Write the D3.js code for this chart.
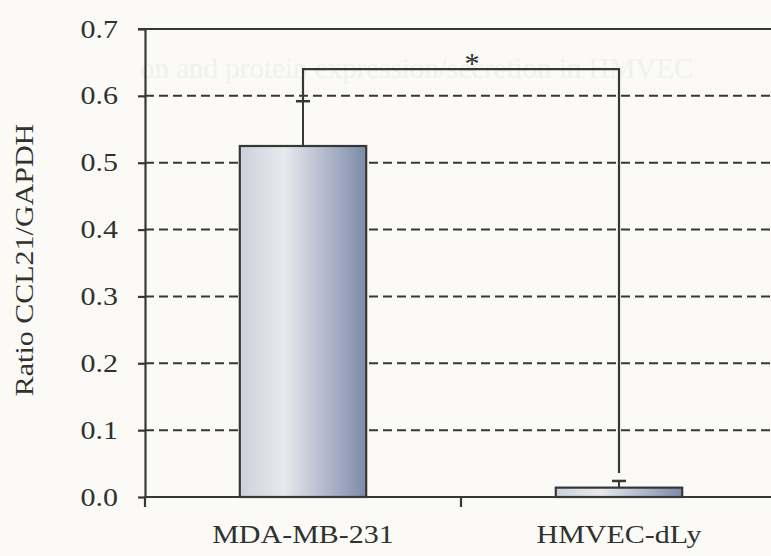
<!DOCTYPE html>
<html>
<head>
<meta charset="utf-8">
<script src="https://cdn.jsdelivr.net/npm/d3@7"></script>
<style>
  body { margin: 0; background: #fbfaf7; }
  svg { display: block; }
  text { font-family: "Liberation Serif", "DejaVu Serif", serif; fill: #2f322e; }
</style>
</head>
<body>
<div id="chart"></div>
<script>
// data
var categories = ['MDA-MB-231', 'HMVEC-dLy'];
var ratios = [0.525, 0.014];
var errors = [0.067, 0.010];
var yTicks = [0.0, 0.1, 0.2, 0.3, 0.4, 0.5, 0.6, 0.7];
var yLabel = 'Ratio CCL21/GAPDH';
var sigLevel = 0.64;
var sigMark = '*';

var width = 771, height = 556;
var margin = {top: 29, right: -6, bottom: 59, left: 145};
var ink = '#353933';
var stretch = 1.2; // the scanned lettering is wider than Liberation Serif

var svg = d3.select('#chart').append('svg')
    .attr('width', width).attr('height', height);

var defs = svg.append('defs');
var grad = defs.append('linearGradient').attr('id', 'barFill')
    .attr('x1', '0%').attr('x2', '100%').attr('y1', '0%').attr('y2', '0%');
grad.append('stop').attr('offset', '0%').attr('stop-color', '#ccd0db');
grad.append('stop').attr('offset', '35%').attr('stop-color', '#e8e9ed');
grad.append('stop').attr('offset', '65%').attr('stop-color', '#b6bdcf');
grad.append('stop').attr('offset', '100%').attr('stop-color', '#7d8aa9');

// faint show-through text from the scanned page
svg.append('text')
    .attr('x', 140).attr('y', 78)
    .style('font-size', '29px')
    .style('fill', '#f1f1ef')
    .text('on and protein expression/secretion in HMVEC');

var x = d3.scaleBand()
    .domain(categories)
    .range([margin.left, width - margin.right])
    .padding(0);

var y = d3.scaleLinear()
    .domain([0, 0.7])
    .range([height - margin.bottom, margin.top]);

var barW = x.bandwidth() * 0.4;

// dashed gridlines
svg.append('g')
    .selectAll('line')
    .data(yTicks.filter(function(d) { return d > 0 && d < 0.7; }))
    .enter().append('line')
    .attr('x1', margin.left).attr('x2', width)
    .attr('y1', function(d) { return y(d); })
    .attr('y2', function(d) { return y(d); })
    .attr('stroke', ink)
    .attr('stroke-width', 2)
    .attr('stroke-dasharray', '9,5');

// top frame line
svg.append('line')
    .attr('x1', margin.left - 7).attr('x2', width)
    .attr('y1', y(0.7)).attr('y2', y(0.7))
    .attr('stroke', ink).attr('stroke-width', 2.2);

// y axis
var yAxis = d3.axisLeft(y)
    .tickValues(yTicks)
    .tickFormat(d3.format('.1f'))
    .tickSizeInner(7)
    .tickSizeOuter(0);

var gy = svg.append('g')
    .attr('transform', 'translate(' + margin.left + ',0)')
    .call(yAxis);
gy.select('.domain').attr('stroke', ink).attr('stroke-width', 2.2);
gy.selectAll('.tick line').attr('stroke', ink).attr('stroke-width', 2.2);
gy.selectAll('.tick text')
    .attr('x', -27 / stretch)
    .attr('transform', 'scale(' + stretch + ',1)')
    .style('font-size', '25px')
    .style('font-family', '"Liberation Serif", serif')
    .attr('fill', '#2f322e');

// x axis (ticks at category boundaries)
var gx = svg.append('g')
    .attr('transform', 'translate(0,' + y(0) + ')');
gx.append('line')
    .attr('x1', margin.left).attr('x2', width)
    .attr('stroke', ink).attr('stroke-width', 2.2);
gx.selectAll('.bound')
    .data(categories)
    .enter().append('line')
    .attr('class', 'bound')
    .attr('x1', function(d) { return x(d); })
    .attr('x2', function(d) { return x(d); })
    .attr('y1', 0).attr('y2', 10)
    .attr('stroke', ink).attr('stroke-width', 2.2);
gx.selectAll('.cat')
    .data(categories)
    .enter().append('text')
    .attr('class', 'cat')
    .attr('transform', function(d) {
      return 'translate(' + (x(d) + x.bandwidth() / 2) + ',46) scale(' + stretch + ',1)';
    })
    .attr('text-anchor', 'middle')
    .style('font-size', '25px')
    .text(function(d) { return d; });

// y label
svg.append('text')
    .attr('transform', 'translate(33,260) rotate(-90) scale(' + stretch + ',1)')
    .attr('text-anchor', 'middle')
    .style('font-size', '25px')
    .text(yLabel);

// bars
var cx = function(i) { return x(categories[i]) + x.bandwidth() / 2; };

svg.append('g')
    .selectAll('rect')
    .data(ratios)
    .enter().append('rect')
    .attr('x', function(d, i) { return cx(i) - barW / 2; })
    .attr('y', function(d) { return y(d); })
    .attr('width', barW)
    .attr('height', function(d) { return y(0) - y(d); })
    .attr('fill', 'url(#barFill)')
    .attr('stroke', ink)
    .attr('stroke-width', 2.2);

// error bars (upper only)
var eb = svg.append('g');
ratios.forEach(function(v, i) {
  eb.append('line')
    .attr('x1', cx(i)).attr('x2', cx(i))
    .attr('y1', y(v)).attr('y2', y(v + errors[i]))
    .attr('stroke', ink).attr('stroke-width', 2);
  eb.append('line')
    .attr('x1', cx(i) - 7).attr('x2', cx(i) + 7)
    .attr('y1', y(v + errors[i])).attr('y2', y(v + errors[i]))
    .attr('stroke', ink).attr('stroke-width', 2.5);
});

// significance bracket
var topEnd = [ratios[0] + errors[0], ratios[1] + errors[1] + 0.012];
svg.append('path')
    .attr('d', 'M' + cx(0) + ',' + y(topEnd[0]) +
               'V' + y(sigLevel) +
               'H' + cx(1) +
               'V' + y(topEnd[1]))
    .attr('fill', 'none')
    .attr('stroke', ink)
    .attr('stroke-width', 2.2);

svg.append('text')
    .attr('x', (cx(0) + cx(1)) / 2 + 11)
    .attr('y', y(sigLevel) + 4)
    .attr('text-anchor', 'middle')
    .style('font-size', '30px')
    .text(sigMark);
</script>
</body>
</html>
